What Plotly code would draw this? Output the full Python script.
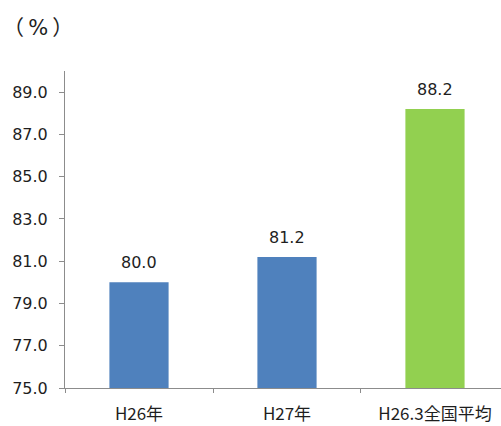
import plotly.graph_objects as go

categories = ["H26年", "H27年", "H26.3全国平均"]
values = [80.0, 81.2, 88.2]
colors = ["#4F81BD", "#4F81BD", "#92D050"]
y_ticks = [75, 77, 79, 81, 83, 85, 87, 89]

FONT = "DejaVu Sans, Noto Sans CJK JP"
CJK = "Noto Sans CJK JP"
TXT = "#1e1e1e"

fig = go.Figure(go.Bar(
    x=categories, y=values,
    marker=dict(color=colors, line=dict(width=0)),
    width=0.4,
    hoverinfo="x+y",
))

annotations = [dict(
    text="（\u2009%\u2009）", x=0, y=1, xref="paper", yref="paper",
    xanchor="left", yanchor="middle", showarrow=False,
    font=dict(size=21, color=TXT, family=FONT),
    xshift=-64, yshift=43,
)]
for c, v in zip(categories, values):
    annotations.append(dict(
        text=f"{v:.1f}", x=c, y=v, xref="x", yref="y",
        xanchor="center", yanchor="bottom", showarrow=False,
        font=dict(size=16, color=TXT, family=FONT),
        yshift=8,
    ))

fig.update_layout(
    width=501, height=426,
    margin=dict(l=65, r=0, t=71, b=38, autoexpand=False),
    paper_bgcolor="white", plot_bgcolor="white",
    showlegend=False,
    font=dict(family=FONT, size=16, color=TXT),
    annotations=annotations,
)
fig.update_xaxes(
    range=[-0.5, 2.446], automargin=False,
    showline=True, linecolor="#8c8c8c", linewidth=1,
    ticks="outside", ticklen=4, tickcolor="#8c8c8c",
    tickson="boundaries",
    ticklabelstandoff=11,
    tickfont=dict(size=17, color=TXT, family=CJK),
    showgrid=False, zeroline=False,
)
fig.update_yaxes(
    range=[75, 90], automargin=False,
    tickvals=y_ticks, ticktext=[f"{t:.1f}" for t in y_ticks],
    showline=True, linecolor="#8c8c8c", linewidth=1,
    ticks="outside", ticklen=5, tickcolor="#8c8c8c",
    ticklabelstandoff=8,
    tickfont=dict(size=16, color=TXT, family=FONT),
    showgrid=False, zeroline=False,
)

fig.write_html("out.html")
